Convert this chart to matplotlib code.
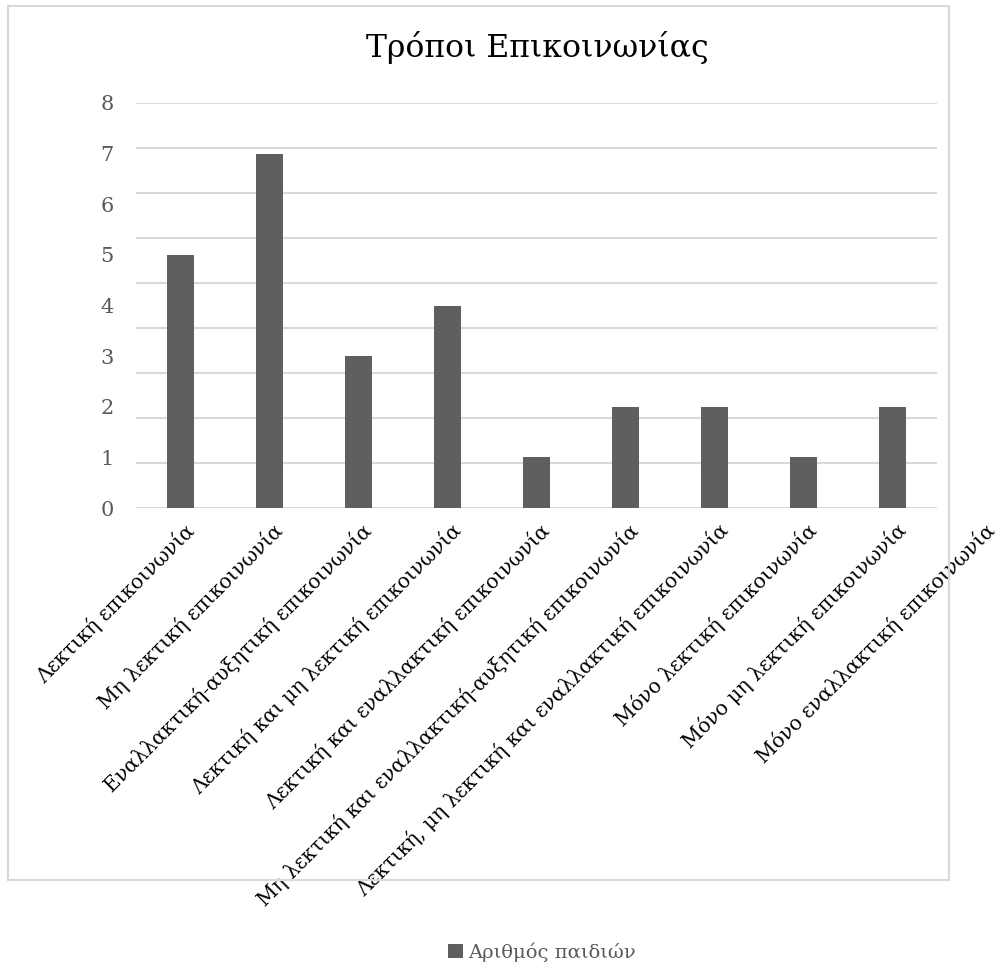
import numpy as np
import matplotlib.pyplot as plt
import matplotlib.transforms as mtransforms
from matplotlib.patches import Rectangle

categories = ['Λεκτική επικοινωνία',
              'Μη λεκτική επικοινωνία',
              'Εναλλακτική-αυξητική επικοινωνία',
              'Λεκτική και μη λεκτική επικοινωνία',
              'Λεκτική και εναλλακτική επικοινωνία',
              'Μη λεκτική και εναλλακτική-αυξητική επικοινωνία',
              'Λεκτική, μη λεκτική και εναλλακτική επικοινωνία',
              'Μόνο λεκτική επικοινωνία',
              'Μόνο μη λεκτική επικοινωνία',
              'Μόνο εναλλακτική επικοινωνία']
values = [5, 7, 3, 4, 1, 2, 2, 1, 2]
yticks = [0, 1, 2, 3, 4, 5, 6, 7, 8]

plt.rcParams['font.family'] = ['DejaVu Serif']

fig = plt.figure(figsize=(10.02, 9.67), dpi=100)
fig.patches.append(Rectangle((8/1002, 1-880/967), (949-8)/1002, (880-6)/967,
                             transform=fig.transFigure, fill=False,
                             edgecolor='#d9d9d9', lw=1.5))

ax = fig.add_axes([136/1002, 1-508/967, (937-136)/1002, (508-103)/967])
x = np.arange(len(values))
bars = ax.bar(x, values, width=0.31, color='#5f5f5f', zorder=3,
              label='Αριθμός παιδιών')
ax.set_xlim(-0.5, len(values) - 0.5)
ax.set_ylim(0, 8)

# gridlines (9 intervals, as in the original)
for k in range(10):
    ax.axhline(k * 8 / 9, color='#d9d9d9', lw=1.5, zorder=1)

for s in ax.spines.values():
    s.set_visible(False)
ax.set_yticks(yticks)
ax.tick_params(axis='y', length=0, labelsize=15, labelcolor='#595959', pad=16)
ax.set_xticks([])

# category labels (one more label than bars, last one sits past the axis)
trans = mtransforms.blended_transform_factory(ax.transData, ax.transAxes) + \
    mtransforms.ScaledTranslation(3/100, -12/100, fig.dpi_scale_trans)
for i, lab in enumerate(categories):
    ax.text(i, 0, lab, transform=trans, rotation=45, ha='right', va='top',
            rotation_mode='anchor', fontsize=14.5, color='black', clip_on=False)

fig.text(537/1002, 1-48/967, 'Τρόποι Επικοινωνίας', ha='center', va='center',
         fontsize=22.7, color='black')

leg = fig.legend(handles=[bars], loc='center', bbox_to_anchor=(542/1002, 1-952/967),
                 frameon=False, fontsize=14, handlelength=0.75, handleheight=0.75,
                 handletextpad=0.3)
for t in leg.get_texts():
    t.set_color('#595959')

fig.savefig('out.png', dpi=100)
